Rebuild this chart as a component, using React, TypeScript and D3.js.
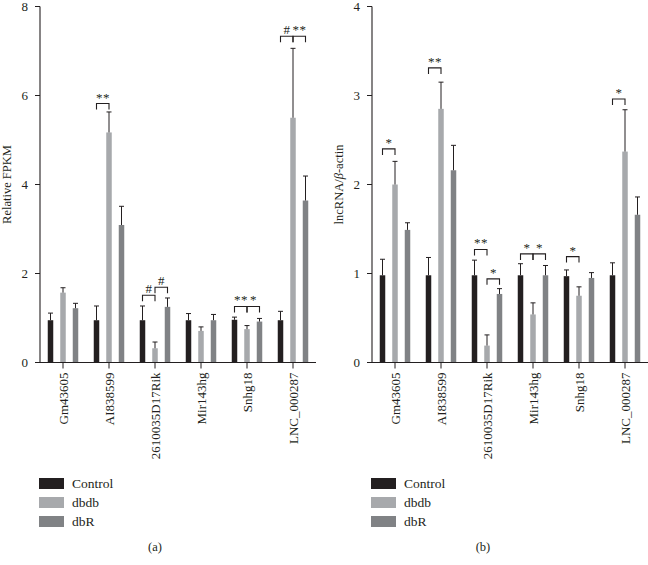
import React from "react";
import { scaleBand, scaleLinear } from "d3";

const categories = ["Gm43605", "AI838599", "2610035D17Rik", "Mir143hg", "Snhg18", "LNC_000287"];
const groups = ["Control", "dbdb", "dbR"];
const groupColors = ["#231f20", "#a7a9ac", "#808285"];

// panel (a) relative FPKM, mean and SEM
const fpkmControl = [0.95, 0.95, 0.95, 0.95, 0.96, 0.95];
const fpkmControlSem = [0.16, 0.32, 0.32, 0.15, 0.06, 0.2];
const fpkmDbdb = [1.57, 5.17, 0.32, 0.71, 0.75, 5.5];
const fpkmDbdbSem = [0.11, 0.46, 0.14, 0.09, 0.08, 1.56];
const fpkmDbR = [1.22, 3.09, 1.25, 0.95, 0.92, 3.64];
const fpkmDbRSem = [0.11, 0.42, 0.2, 0.13, 0.07, 0.55];
const fpkmTicks = [0, 2, 4, 6, 8];

// panel (b) lncRNA / beta-actin
const qpcrControl = [0.98, 0.98, 0.98, 0.98, 0.97, 0.98];
const qpcrControlSem = [0.18, 0.2, 0.17, 0.13, 0.07, 0.14];
const qpcrDbdb = [2.0, 2.85, 0.19, 0.54, 0.75, 2.37];
const qpcrDbdbSem = [0.26, 0.3, 0.12, 0.13, 0.1, 0.47];
const qpcrDbR = [1.49, 2.16, 0.77, 0.98, 0.95, 1.66];
const qpcrDbRSem = [0.08, 0.28, 0.06, 0.11, 0.06, 0.2];
const qpcrTicks = [0, 1, 2, 3, 4];

// significance brackets: category index, from group, to group, height (data units), mark
const fpkmMarks = [
  [1, 0, 1, 5.82, "**"],
  [5, 0, 1, 7.33, "#"],
  [5, 1, 2, 7.33, "**"],
  [2, 0, 1, 1.51, "#"],
  [2, 1, 2, 1.69, "#"],
  [4, 0, 1, 1.26, "**"],
  [4, 1, 2, 1.26, "*"],
];
const qpcrMarks = [
  [0, 0, 1, 2.4, "*"],
  [1, 0, 1, 3.31, "**"],
  [5, 0, 1, 2.96, "*"],
  [2, 0, 1, 1.27, "**"],
  [2, 1, 2, 0.94, "*"],
  [3, 0, 1, 1.22, "*"],
  [3, 1, 2, 1.22, "*"],
  [4, 0, 1, 1.19, "*"],
];

const FONT = "'Liberation Serif', 'DejaVu Serif', serif";
const INK = "#231f20";

function Panel({ left, right, max, ticks, series, sems, marks, ylabel, tag }) {
  const top = 6.5;
  const bottom = 362.5;
  const x = scaleBand().domain(categories).range([left, right]);
  const y = scaleLinear().domain([0, max]).range([bottom, top]);
  const off = scaleLinear().domain([0, 2]).range([-12.5, 12.5]);
  const bw = 5.5;
  const cx = (c, g) => x(categories[c]) + x.bandwidth() / 2 + off(g);

  return (
    <g fontFamily={FONT} fill={INK}>
      {series.map((vals, g) =>
        vals.map((v, c) => {
          const e = v + sems[g][c];
          const xc = cx(c, g);
          return (
            <g key={g + "-" + c}>
              <rect x={xc - bw / 2} y={y(v)} width={bw} height={y(0) - y(v)} fill={groupColors[g]} />
              <line x1={xc} x2={xc} y1={y(v)} y2={y(e)} stroke={INK} strokeWidth={1} />
              <line x1={xc - 2.5} x2={xc + 2.5} y1={y(e)} y2={y(e)} stroke={INK} strokeWidth={1} />
            </g>
          );
        })
      )}
      {marks.map(([c, g0, g1, h, label], i) => {
        const x0 = cx(c, g0);
        const x1 = cx(c, g1);
        const yy = y(h);
        const chars = label.split("");
        return (
          <g key={"m" + i}>
            <path d={`M${x0},${yy + 6}V${yy}H${x1}V${yy + 6}`} fill="none" stroke={INK} strokeWidth={1.1} />
            {chars.map((ch, k) => (
              <text
                key={k}
                x={(x0 + x1) / 2 + (k - (chars.length - 1) / 2) * 7}
                y={yy - 2}
                textAnchor="middle"
                fontSize={13}
                fill={INK}
              >
                {ch}
              </text>
            ))}
          </g>
        );
      })}
      {/* axes */}
      <line x1={left} x2={left} y1={top} y2={bottom} stroke={INK} strokeWidth={1.1} />
      <line x1={left} x2={right} y1={bottom} y2={bottom} stroke={INK} strokeWidth={1.1} />
      {ticks.map((t) => (
        <g key={"t" + t}>
          <line x1={left - 5} x2={left} y1={y(t)} y2={y(t)} stroke={INK} />
          <text x={left - 12} y={y(t) + 4} textAnchor="end" fontSize={13}>
            {t}
          </text>
        </g>
      ))}
      {categories.map((c) => {
        const xc = x(c) + x.bandwidth() / 2;
        return (
          <g key={c}>
            <line x1={xc} x2={xc} y1={bottom} y2={bottom + 6} stroke={INK} />
            <text transform={`translate(${xc + 4.5},${bottom + 10}) rotate(-90)`} textAnchor="end" fontSize={13}>
              {c}
            </text>
          </g>
        );
      })}
      <text transform={`translate(${left - 29},${(top + bottom) / 2}) rotate(-90)`} textAnchor="middle" fontSize={12.5}>
        {ylabel}
      </text>
      {groups.map((g, i) => (
        <g key={g}>
          <rect x={left - 1} y={478 + i * 19} width={25} height={11} fill={groupColors[i]} />
          <text x={left + 32} y={488 + i * 19} fontSize={13.5}>
            {g}
          </text>
        </g>
      ))}
      <text x={tag[1]} y={551} textAnchor="middle" fontSize={12.5}>
        {tag[0]}
      </text>
    </g>
  );
}

export default function App() {
  return (
    <svg width={648} height={565} style={{ position: "absolute", left: 0, top: 0, background: "#fff" }}>
      <Panel
        left={40}
        right={316}
        max={8}
        ticks={fpkmTicks}
        series={[fpkmControl, fpkmDbdb, fpkmDbR]}
        sems={[fpkmControlSem, fpkmDbdbSem, fpkmDbRSem]}
        marks={fpkmMarks}
        ylabel="Relative FPKM"
        tag={["(a)", 155]}
      />
      <Panel
        left={372}
        right={648}
        max={4}
        ticks={qpcrTicks}
        series={[qpcrControl, qpcrDbdb, qpcrDbR]}
        sems={[qpcrControlSem, qpcrDbdbSem, qpcrDbRSem]}
        marks={qpcrMarks}
        ylabel={
          <>
            lncRNA/<tspan fontStyle="italic">β</tspan>-actin
          </>
        }
        tag={["(b)", 483]}
      />
    </svg>
  );
}
